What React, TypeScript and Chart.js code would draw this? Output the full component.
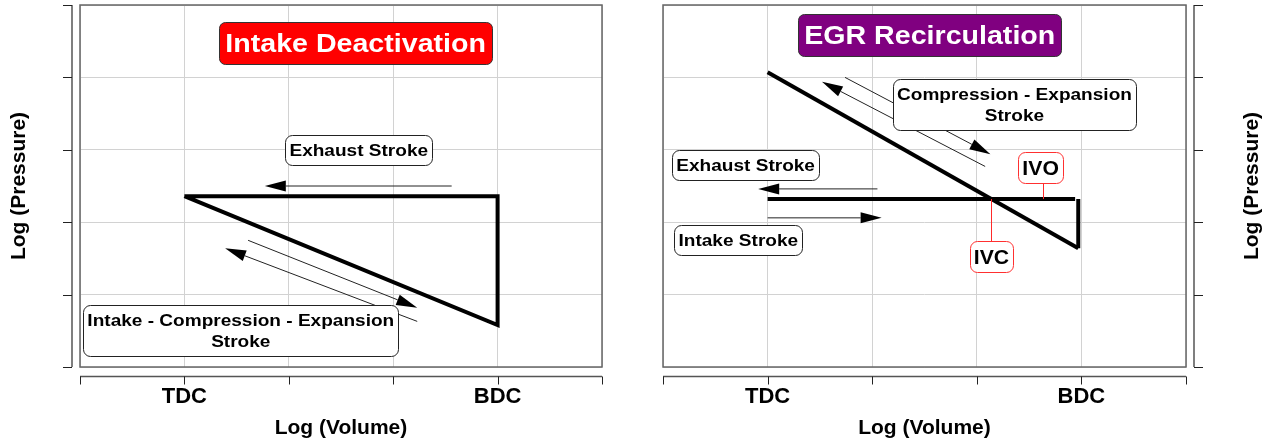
import React, { useEffect, useRef } from 'react';
import { Chart, registerables } from 'chart.js';

Chart.register(...registerables);

const FONT = "'Liberation Sans', Arial, Helvetica, sans-serif";

// ---------- axes ----------
const xTickValues = [0, 1, 2, 3, 4, 5];
const xTickLabels = ['', 'TDC', '', '', 'BDC', ''];
const yTickValues = [0, 1, 2, 3, 4, 5];
const xAxisTitle = 'Log (Volume)';
const yAxisTitle = 'Log (Pressure)';

// ---------- left panel: Intake Deactivation ----------
const deactLoopX = [1, 4, 4, 1];
const deactLoopY = [2.36, 2.36, 0.58, 2.36];

// arrows: [fromX, fromY, toX(tip), toY(tip)]
const deactArrows = [
  [3.56, 2.5, 1.77, 2.5],
  [1.61, 1.75, 3.23, 0.82],
  [3.23, 0.63, 1.39, 1.64],
];

const deactTitle = { lines: ['Intake Deactivation'], x: 2.64, y: 4.47 };
const deactNotes = [
  { lines: ['Exhaust Stroke'], x: 2.67, y: 3.0 },
  { lines: ['Intake - Compression - Expansion', 'Stroke'], x: 1.54, y: 0.5 },
];

// ---------- right panel: EGR Recirculation ----------
const egrCompExpX = [1, 3.97];
const egrCompExpY = [4.07, 1.64];
const egrGasExchangeX = [1, 3.94];
const egrGasExchangeY = [2.32, 2.32];
const egrBdcX = [3.97, 3.97];
const egrBdcY = [2.32, 1.64];

const egrArrows = [
  [2.05, 2.46, 0.91, 2.46],
  [1.0, 2.06, 2.09, 2.06],
  [1.74, 4.0, 3.13, 2.94],
  [3.08, 2.77, 1.52, 3.94],
];

const egrTitle = { lines: ['EGR Recirculation'], x: 2.55, y: 4.59 };
const egrNotes = [
  { lines: ['Compression - Expansion', 'Stroke'], x: 3.36, y: 3.63 },
  { lines: ['Exhaust Stroke'], x: 0.79, y: 2.79 },
  { lines: ['Intake Stroke'], x: 0.72, y: 1.75 },
];
const egrValveEvents = [
  { lines: ['IVO'], x: 3.61, y: 2.76, atX: 3.63, atY: 2.32 },
  { lines: ['IVC'], x: 3.14, y: 1.52, atX: 3.14, atY: 2.32 },
];

// ---------- styles ----------
const STYLES: any = {
  title: { size: 26, sx: 1.1, padX: 6, padY: 6, lineH: 30, radius: 6, stroke: '#333', text: '#fff' },
  note: { size: 17, sx: 1.12, padX: 4, padY: 4.5, lineH: 21, radius: 7, stroke: '#222', text: '#000' },
  event: { size: 20, sx: 1.06, padX: 4, padY: 4, lineH: 23, radius: 7, stroke: '#ff3030', text: '#000' },
};

function pts(xs: number[], ys: number[]) {
  return xs.map((x, i) => ({ x, y: ys[i] }));
}

function lineDs(xs: number[], ys: number[]) {
  return {
    data: pts(xs, ys),
    showLine: true,
    borderColor: '#000',
    borderWidth: 4,
    pointRadius: 0,
    fill: false,
    tension: 0,
    borderJoinStyle: 'miter',
    borderCapStyle: 'butt',
  };
}

function roundRectPath(ctx: CanvasRenderingContext2D, x: number, y: number, w: number, h: number, r: number) {
  ctx.beginPath();
  ctx.moveTo(x + r, y);
  ctx.lineTo(x + w - r, y);
  ctx.arcTo(x + w, y, x + w, y + r, r);
  ctx.lineTo(x + w, y + h - r);
  ctx.arcTo(x + w, y + h, x + w - r, y + h, r);
  ctx.lineTo(x + r, y + h);
  ctx.arcTo(x, y + h, x, y + h - r, r);
  ctx.lineTo(x, y + r);
  ctx.arcTo(x, y, x + r, y, r);
  ctx.closePath();
}

function drawBox(chart: any, item: any, st: any, fill: string) {
  const ctx: CanvasRenderingContext2D = chart.ctx;
  const cx = chart.scales.x.getPixelForValue(item.x);
  const cy = chart.scales.y.getPixelForValue(item.y);
  ctx.save();
  ctx.font = `bold ${st.size}px ${FONT}`;
  const tw = Math.max(...item.lines.map((l: string) => ctx.measureText(l).width)) * st.sx;
  const w = Math.round(tw + 2 * st.padX);
  const h = Math.round(item.lines.length * st.lineH + 2 * st.padY);
  const x0 = Math.round(cx - w / 2) + 0.5;
  const y0 = Math.round(cy - h / 2) + 0.5;
  roundRectPath(ctx, x0, y0, w, h, st.radius);
  ctx.fillStyle = fill;
  ctx.fill();
  ctx.lineWidth = 1;
  ctx.strokeStyle = st.stroke;
  ctx.stroke();
  ctx.fillStyle = st.text;
  ctx.textAlign = 'center';
  ctx.textBaseline = 'middle';
  item.lines.forEach((l: string, i: number) => {
    const ty = y0 + st.padY + st.lineH * (i + 0.5) + 1;
    ctx.save();
    ctx.translate(cx, ty);
    ctx.scale(st.sx, 1);
    ctx.fillText(l, 0, 0);
    ctx.restore();
  });
  ctx.restore();
  return { x0, y0, w, h };
}

function drawArrow(ctx: CanvasRenderingContext2D, x1: number, y1: number, x2: number, y2: number) {
  const ang = Math.atan2(y2 - y1, x2 - x1);
  const L = 21;
  const W = 5.5;
  const c = Math.cos(ang);
  const s = Math.sin(ang);
  const bx = x2 - L * c;
  const by = y2 - L * s;
  ctx.save();
  ctx.strokeStyle = '#222';
  ctx.fillStyle = '#000';
  ctx.lineWidth = 1;
  ctx.beginPath();
  ctx.moveTo(x1, y1);
  ctx.lineTo(bx, by);
  ctx.stroke();
  ctx.beginPath();
  ctx.moveTo(x2, y2);
  ctx.lineTo(bx - W * s, by + W * c);
  ctx.lineTo(bx + W * s, by - W * c);
  ctx.closePath();
  ctx.fill();
  ctx.restore();
}

function makePlugin(side: string, cfg: any) {
  return {
    id: 'pvDecor' + side,
    afterDatasetsDraw(chart: any) {
      const ctx: CanvasRenderingContext2D = chart.ctx;
      const xs = chart.scales.x;
      const ys = chart.scales.y;
      ctx.save();
      const a = chart.chartArea;
      ctx.beginPath();
      ctx.rect(a.left, a.top, a.right - a.left, a.bottom - a.top);
      ctx.clip();
      cfg.arrows.forEach((ar: number[]) => {
        drawArrow(ctx, xs.getPixelForValue(ar[0]), ys.getPixelForValue(ar[1]), xs.getPixelForValue(ar[2]), ys.getPixelForValue(ar[3]));
      });
      drawBox(chart, cfg.title, STYLES.title, cfg.titleFill);
      cfg.notes.forEach((n: any) => drawBox(chart, n, STYLES.note, '#fff'));
      (cfg.events || []).forEach((ev: any) => {
        const b = drawBox(chart, ev, STYLES.event, '#fff');
        const px = Math.round(xs.getPixelForValue(ev.atX)) + 0.5;
        const py = ys.getPixelForValue(ev.atY);
        const edge = py < b.y0 ? b.y0 : b.y0 + b.h;
        ctx.save();
        ctx.strokeStyle = '#ff2a2a';
        ctx.lineWidth = 1;
        ctx.beginPath();
        ctx.moveTo(px, py);
        ctx.lineTo(px, edge);
        ctx.stroke();
        ctx.restore();
      });
      ctx.restore();
    },
    afterDraw(chart: any) {
      const ctx: CanvasRenderingContext2D = chart.ctx;
      const a = chart.chartArea;
      const xs = chart.scales.x;
      const ys = chart.scales.y;
      ctx.save();
      // plot frame
      ctx.strokeStyle = '#666';
      ctx.lineWidth = 1.5;
      ctx.strokeRect(a.left, a.top, a.right - a.left, a.bottom - a.top);
      // detached x axis
      const ay = a.bottom + 9.5;
      ctx.strokeStyle = '#555';
      ctx.lineWidth = 1.5;
      ctx.beginPath();
      ctx.moveTo(a.left, ay);
      ctx.lineTo(a.right, ay);
      ctx.stroke();
      ctx.strokeStyle = '#222';
      ctx.lineWidth = 1;
      xTickValues.forEach((v) => {
        const px = Math.round(xs.getPixelForValue(v)) + 0.5;
        ctx.beginPath();
        ctx.moveTo(px, ay);
        ctx.lineTo(px, ay + 8);
        ctx.stroke();
      });
      // detached y axis
      const ax = side === 'left' ? a.left - 8 : a.right + 8;
      const dir = side === 'left' ? -1 : 1;
      ctx.strokeStyle = '#555';
      ctx.lineWidth = 1.5;
      ctx.beginPath();
      ctx.moveTo(ax, a.top);
      ctx.lineTo(ax, a.bottom);
      ctx.stroke();
      ctx.strokeStyle = '#222';
      ctx.lineWidth = 1;
      yTickValues.forEach((v) => {
        const py = Math.round(ys.getPixelForValue(v)) + 0.5;
        ctx.beginPath();
        ctx.moveTo(ax, py);
        ctx.lineTo(ax + dir * 9, py);
        ctx.stroke();
      });
      // y title (reads bottom to top on both sides)
      const tx = side === 'left' ? a.left - 55 : a.right + 72;
      ctx.translate(tx, (a.top + a.bottom) / 2);
      ctx.rotate(-Math.PI / 2);
      ctx.fillStyle = '#000';
      ctx.font = `bold 21px ${FONT}`;
      ctx.textAlign = 'center';
      ctx.textBaseline = 'alphabetic';
      ctx.fillText(yAxisTitle, 0, 0);
      ctx.restore();
    },
  };
}

function baseOptions(side: string): any {
  const grid = { color: '#d2d2d2', lineWidth: 1, drawTicks: false };
  return {
    responsive: false,
    animation: false,
    devicePixelRatio: 1,
    events: [],
    layout: {
      padding: side === 'left' ? { left: 0, right: 38, top: 5, bottom: 0 } : { left: 23, right: 0, top: 5, bottom: 0 },
    },
    plugins: { legend: { display: false }, tooltip: { enabled: false } },
    scales: {
      x: {
        type: 'linear',
        position: 'bottom',
        min: 0,
        max: 5,
        afterBuildTicks: (s: any) => {
          s.ticks = xTickValues.map((v) => ({ value: v }));
        },
        ticks: {
          autoSkip: false,
          maxRotation: 0,
          padding: 17,
          color: '#000',
          font: { family: FONT, size: 22, weight: 'bold' },
          callback: (v: any) => xTickLabels[xTickValues.indexOf(Number(v))] ?? '',
        },
        grid,
        border: { display: false },
        title: {
          display: true,
          text: xAxisTitle,
          color: '#000',
          font: { family: FONT, size: 21, weight: 'bold' },
          padding: { top: 0, bottom: 6 },
        },
        afterFit: (s: any) => {
          s.height = 80;
        },
      },
      y: {
        type: 'linear',
        position: side,
        min: 0,
        max: 5,
        afterBuildTicks: (s: any) => {
          s.ticks = yTickValues.map((v) => ({ value: v }));
        },
        ticks: { display: false },
        grid,
        border: { display: false },
        afterFit: (s: any) => {
          s.width = side === 'left' ? 80 : 93;
        },
      },
    },
  };
}

function Panel(props: any) {
  const ref = useRef<HTMLCanvasElement>(null);
  useEffect(() => {
    const chart = new Chart(ref.current as HTMLCanvasElement, {
      type: 'scatter',
      data: { datasets: props.datasets },
      options: baseOptions(props.side),
      plugins: [makePlugin(props.side, props.cfg)],
    } as any);
    return () => chart.destroy();
  }, []);
  return (
    <canvas
      ref={ref}
      width={props.width}
      height={447}
      style={{ position: 'absolute', left: props.left, top: 0, width: props.width, height: 447, display: 'block' }}
    />
  );
}

export default function App() {
  const leftDatasets = [lineDs(deactLoopX, deactLoopY)];
  const rightDatasets = [
    lineDs(egrCompExpX, egrCompExpY),
    lineDs(egrGasExchangeX, egrGasExchangeY),
    lineDs(egrBdcX, egrBdcY),
  ];
  return (
    <div style={{ position: 'absolute', left: 0, top: 0, width: 1279, height: 447, background: '#fff', overflow: 'hidden' }}>
      <Panel
        side="left"
        left={0}
        width={640}
        datasets={leftDatasets}
        cfg={{ arrows: deactArrows, title: deactTitle, titleFill: '#ff0000', notes: deactNotes }}
      />
      <Panel
        side="right"
        left={640}
        width={639}
        datasets={rightDatasets}
        cfg={{ arrows: egrArrows, title: egrTitle, titleFill: '#800080', notes: egrNotes, events: egrValveEvents }}
      />
    </div>
  );
}
